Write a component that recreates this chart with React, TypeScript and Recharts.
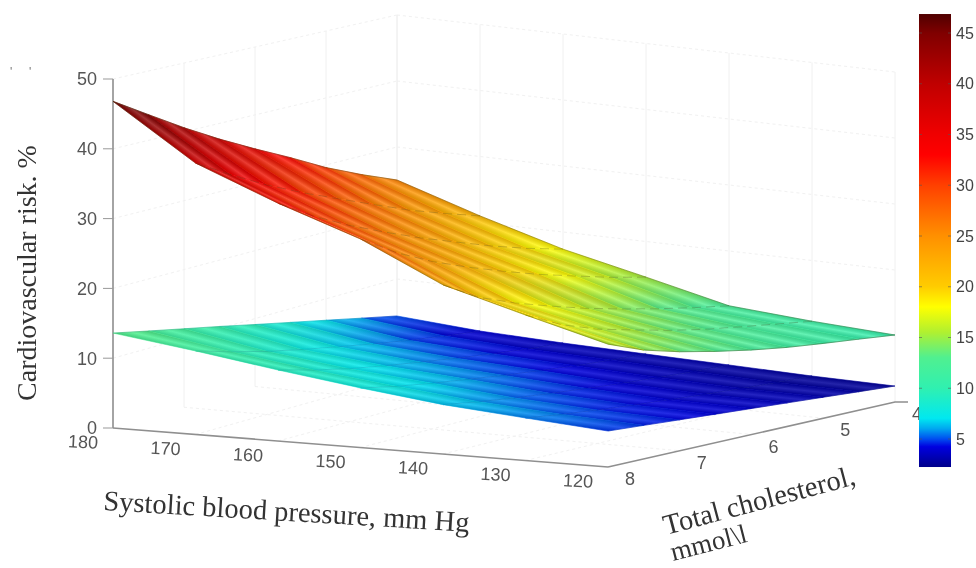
import React from "react";
import { ScatterChart, Scatter, XAxis, YAxis } from "recharts";

// ---------- data ----------
const sbpGrid = [180, 170, 160, 150, 140, 130, 120];
const cholGrid = [4, 4.5, 5, 5.5, 6, 6.5, 7, 7.5, 8];
const riskHigh = [
  [25.0, 27.2, 29.6, 32.4, 35.0, 37.7, 40.6, 43.7, 46.8],
  [21.0, 22.7, 24.5, 26.6, 28.7, 30.8, 33.1, 35.7, 38.5],
  [17.4, 18.8, 20.4, 22.2, 24.0, 26.0, 28.1, 30.5, 33.4],
  [14.6, 15.8, 17.2, 18.6, 20.2, 21.9, 23.8, 26.1, 29.0],
  [11.7, 12.6, 13.6, 14.7, 15.9, 17.3, 18.8, 20.6, 23.3],
  [10.8, 11.5, 12.2, 12.9, 13.8, 14.9, 16.0, 17.6, 19.85],
  [10.15, 10.6, 11.0, 11.45, 12.07, 12.85, 13.75, 14.9, 16.6],
];
const riskLow = [
  [4.4, 5.6, 6.8, 7.97, 9.13, 10.3, 11.4, 12.5, 13.6],
  [3.56, 4.3, 5.1, 6.0, 7.0, 8.0, 9.1, 10.4, 11.85],
  [3.18, 3.7, 4.4, 5.1, 5.9, 6.7, 7.6, 8.7, 9.97],
  [2.95, 3.4, 3.9, 4.5, 5.1, 5.8, 6.5, 7.3, 8.28],
  [2.73, 3.05, 3.45, 3.85, 4.35, 4.85, 5.4, 6.05, 6.8],
  [2.5, 2.75, 3.1, 3.45, 3.85, 4.25, 4.7, 5.2, 5.8],
  [2.42, 2.75, 3.09, 3.41, 3.71, 4.01, 4.3, 4.59, 4.86],
];
const sbpTicks = [180, 170, 160, 150, 140, 130, 120];
const cholTicks = [8, 7, 6, 5, 4];
const riskTicks = [0, 10, 20, 30, 40, 50];
const barTicks = [5, 10, 15, 20, 25, 30, 35, 40, 45];
const barRange = [2.24, 46.87];
const colorStops: [number, string][] = [
  [2.2, "#00008a"], [4.2, "#0000e0"], [5.0, "#0050f0"], [6.0, "#00a8f0"], [7.0, "#00e8f0"],
  [10, "#30f0b0"], [13, "#50f090"], [15.5, "#b0f030"], [18, "#ffff00"], [20, "#ffcc00"],
  [25, "#ff9000"], [30, "#ff4000"], [33, "#ff0000"], [35, "#f00000"], [40, "#c00000"],
  [45, "#800000"], [46.9, "#500000"],
];

// ---------- view geometry ----------
const W = 976, H = 568;
const PLOT_LEFT = 113, PLOT_RIGHT = 951, BAR_W = 32;
const Y0 = 428, KY = 6.98;
const BAR_Y45 = 33, BAR_K = 10.15;
// floor position and vertical scale at the four corners of the box
const C00 = { x: 113, y: 428, s: 6.98 };
const C10 = { x: 608, y: 467, s: 7.4 };
const C11 = { x: 895, y: 402, s: 6.6 };
const C01 = { x: 397, y: 345, s: 6.6 };

function project(sbp: number, chol: number, z: number) {
  const u = (180 - sbp) / 60, v = (8 - chol) / 4;
  const mix = (k: "x" | "y" | "s") =>
    C00[k] * (1 - u) * (1 - v) + C10[k] * u * (1 - v) + C11[k] * u * v + C01[k] * (1 - u) * v;
  return { x: mix("x"), y: (Y0 - (mix("y") - mix("s") * z)) / KY };
}

function colorOf(z: number) {
  const hex = (c: string) => [1, 3, 5].map((i) => parseInt(c.slice(i, i + 2), 16));
  if (z <= colorStops[0][0]) return colorStops[0][1];
  for (let i = 1; i < colorStops.length; i++) {
    if (z <= colorStops[i][0]) {
      const [a, ca] = colorStops[i - 1], [b, cb] = colorStops[i];
      const t = (z - a) / (b - a), A = hex(ca), B = hex(cb);
      return `rgb(${A.map((q, k) => Math.round(q + (B[k] - q) * t)).join(",")})`;
    }
  }
  return colorStops[colorStops.length - 1][1];
}

type Pt = { x: number; y: number };
type Cell = { id: string; x: number; y: number; corners: Pt[]; c0: string; c1: string; light: number };

function cellsOf(name: string, table: number[][], light: number): Cell[] {
  const out: Cell[] = [];
  for (let i = 0; i < sbpGrid.length - 1; i++) {
    for (let j = 0; j < cholGrid.length - 1; j++) {
      const a = project(sbpGrid[i], cholGrid[j], table[i][j]);
      const b = project(sbpGrid[i + 1], cholGrid[j], table[i + 1][j]);
      const c = project(sbpGrid[i + 1], cholGrid[j + 1], table[i + 1][j + 1]);
      const d = project(sbpGrid[i], cholGrid[j + 1], table[i][j + 1]);
      out.push({
        id: `${name}${i}_${j}`, x: a.x, y: a.y, corners: [a, b, c, d],
        c0: colorOf((table[i][j] + table[i][j + 1]) / 2),
        c1: colorOf((table[i + 1][j] + table[i + 1][j + 1]) / 2),
        light,
      });
    }
  }
  return out;
}

// gradient vector starting at s, reaching t, with its stripes parallel to edge
function across(s: Pt, t: Pt, edge: Pt) {
  const len = Math.hypot(edge.x, edge.y) || 1;
  const n = { x: -edge.y / len, y: edge.x / len };
  const k = (t.x - s.x) * n.x + (t.y - s.y) * n.y;
  return { x1: s.x, y1: s.y, x2: s.x + n.x * k, y2: s.y + n.y * k };
}

function CellShape(props: any) {
  const { cx, cy, payload } = props;
  const p: Cell = payload;
  const pts = p.corners.map((q) => ({ x: cx + (q.x - p.x), y: cy - (q.y - p.y) * KY }));
  const [a, b, c, d] = pts;
  const str = pts.map((q) => `${q.x},${q.y}`).join(" ");
  const m = (s: Pt, t: Pt) => ({ x: (s.x + t.x) / 2, y: (s.y + t.y) / 2 });
  const alongSbp = { x: b.x - a.x + c.x - d.x, y: b.y - a.y + c.y - d.y };
  const alongChol = { x: d.x - a.x + c.x - b.x, y: d.y - a.y + c.y - b.y };
  const colourVec = across(m(a, d), m(b, c), alongChol);
  const shadeVec = across(m(a, b), m(d, c), alongSbp);
  return (
    <g>
      <defs>
        <linearGradient id={`c${p.id}`} gradientUnits="userSpaceOnUse" {...colourVec}>
          <stop offset="0" stopColor={p.c0} />
          <stop offset="1" stopColor={p.c1} />
        </linearGradient>
        <linearGradient id={`s${p.id}`} gradientUnits="userSpaceOnUse" {...shadeVec}>
          <stop offset="0" stopColor="#000" stopOpacity={0.13} />
          <stop offset="0.5" stopColor="#fff" stopOpacity={p.light} />
          <stop offset="1" stopColor="#000" stopOpacity={0.13} />
        </linearGradient>
      </defs>
      <polygon points={str} fill={`url(#c${p.id})`} stroke={`url(#c${p.id})`} strokeWidth={0.6} />
      <polygon points={str} fill={`url(#s${p.id})`} />
    </g>
  );
}

const NoDot = () => <g />;
const cellsHigh = cellsOf("h", riskHigh, 0.2);
const cellsLow = cellsOf("l", riskLow, 0.14);
const rowLine = (table: number[][], i: number) => cholGrid.map((c, j) => project(sbpGrid[i], c, table[i][j]));
const colLine = (table: number[][], j: number) => sbpGrid.map((s, i) => project(s, cholGrid[j], table[i][j]));
const wallLeft = (z: number) => [project(180, 8, z), project(180, 4, z)];
const wallBack = (z: number) => [project(180, 4, z), project(120, 4, z)];

const SBP_DX = -30, SBP_DY = 14, CHOL_DX = 22, CHOL_DY = 12;
const axisLabel = (dx: number, dy: number, rot: number) => (props: any) => {
  const x = props.cx + dx, y = props.cy + dy;
  return (
    <text x={x} y={y} textAnchor="middle" dominantBaseline="central" fontFamily="Liberation Sans" fontSize={18} fill="#555"
      transform={`rotate(${rot} ${x} ${y})`}>{props.payload.label}</text>
  );
};
const SbpLabel = axisLabel(SBP_DX, SBP_DY, 3);
const CholLabel = axisLabel(CHOL_DX, CHOL_DY, 0);

// the colour bar: one anchor at its top right, its height comes from the axis scale
const BarShape = (props: any) => {
  const { cx, cy } = props;
  const h = (barRange[1] - barRange[0]) * BAR_K;
  return <rect x={cx - BAR_W} y={cy} width={BAR_W} height={h} fill="url(#bar)" />;
};
const BarTick = (props: any) => (
  <g stroke="#555" strokeOpacity={0.6} strokeWidth={1}>
    <line x1={props.cx - BAR_W} x2={props.cx - BAR_W + 3} y1={props.cy} y2={props.cy} />
    <line x1={props.cx - 3} x2={props.cx} y1={props.cy} y2={props.cy} />
  </g>
);

const GRID = { stroke: "#f0f0f0", strokeWidth: 1 };
const DOTTED = { stroke: "#f1f1f1", strokeWidth: 1, strokeDasharray: "3 3" };
const AXIS = { stroke: "#8f8f8f", strokeWidth: 1.6 };

export default function App() {
  const serif = "Liberation Serif";
  const gridLines: Pt[][] = [];
  const dashLines: Pt[][] = [];
  for (const z of riskTicks.slice(1)) { dashLines.push(wallLeft(z), wallBack(z)); }
  for (const c of cholTicks) gridLines.push([project(180, c, 0), project(180, c, 50)]);
  for (const s of sbpTicks) gridLines.push([project(s, 4, 0), project(s, 4, 50)]);
  for (const s of sbpTicks.slice(1, -1)) dashLines.push([project(s, 8, 0), project(s, 4, 0)]);
  for (const c of cholTicks.slice(1, -1)) dashLines.push([project(180, c, 0), project(120, c, 0)]);
  const corner = project(120, 4, 0);

  return (
    <div style={{ position: "absolute", left: 0, top: 0, width: W, height: H, background: "#fff", filter: "blur(0.6px)" }}>
      <ScatterChart width={W} height={H} margin={{ top: 0, right: 0, bottom: 0, left: 0 }}>
        <defs>
          <linearGradient id="bar" x1="0" y1="1" x2="0" y2="0">
            {colorStops.map(([v, c]) => (
              <stop key={v} offset={(v - 2.2) / (46.9 - 2.2)} stopColor={c} />
            ))}
          </linearGradient>
        </defs>
        <XAxis type="number" dataKey="x" hide domain={[PLOT_LEFT, PLOT_RIGHT]} />
        <YAxis yAxisId="z" type="number" dataKey="y" width={PLOT_LEFT} domain={[(Y0 - H) / KY, Y0 / KY]}
          ticks={riskTicks} interval={0} axisLine={false} tickSize={10} tickMargin={6}
          tickLine={{ stroke: "#999" }} tick={{ fontSize: 18, fill: "#555", fontFamily: "Liberation Sans" }} />
        <YAxis yAxisId="bar" orientation="right" type="number" dataKey="y" width={W - PLOT_RIGHT}
          domain={[45 - (H - BAR_Y45) / BAR_K, 45 + BAR_Y45 / BAR_K]} ticks={barTicks} interval={0}
          axisLine={false} tickLine={false} tickSize={0} tickMargin={5}
          tick={{ fontSize: 16, fill: "#444", fontFamily: "Liberation Sans" }} />

        {dashLines.map((d, i) => (
          <Scatter key={`d${i}`} yAxisId="z" data={d} line={DOTTED} shape={NoDot} isAnimationActive={false} />
        ))}
        {gridLines.map((d, i) => (
          <Scatter key={`g${i}`} yAxisId="z" data={d} line={GRID} shape={NoDot} isAnimationActive={false} />
        ))}

        <Scatter yAxisId="z" data={[project(180, 8, 0), project(180, 8, 50)]} line={AXIS} shape={NoDot} isAnimationActive={false} />
        <Scatter yAxisId="z" data={[project(180, 8, 0), project(120, 8, 0)]} line={AXIS} shape={NoDot} isAnimationActive={false} />
        <Scatter yAxisId="z" data={[project(120, 8, 0), corner, { x: corner.x + 13, y: corner.y }]} line={AXIS} shape={NoDot} isAnimationActive={false} />

        <Scatter yAxisId="z" data={cellsLow} shape={CellShape} isAnimationActive={false} />
        <Scatter yAxisId="z" data={cellsHigh} shape={CellShape} isAnimationActive={false} />

        {sbpGrid.map((_, i) => (
          <Scatter key={`mh${i}`} yAxisId="z" data={rowLine(riskHigh, i)} shape={NoDot} isAnimationActive={false}
            line={{ stroke: "#3c3c14", strokeOpacity: i === 0 || i === sbpGrid.length - 1 ? 0.45 : 0.32, strokeWidth: 0.9, strokeDasharray: i === 0 || i === sbpGrid.length - 1 ? undefined : "9 5" }} />
        ))}
        {[0, cholGrid.length - 1].map((j) => (
          <Scatter key={`oh${j}`} yAxisId="z" data={colLine(riskHigh, j)} shape={NoDot} isAnimationActive={false}
            line={{ stroke: "#3c3c14", strokeOpacity: 0.45, strokeWidth: 0.8 }} />
        ))}
        {sbpGrid.map((_, i) => (
          <Scatter key={`ml${i}`} yAxisId="z" data={rowLine(riskLow, i)} shape={NoDot} isAnimationActive={false}
            line={{ stroke: "#001450", strokeOpacity: 0.18, strokeWidth: 0.8 }} />
        ))}

        <Scatter yAxisId="z" isAnimationActive={false} shape={SbpLabel}
          data={sbpTicks.map((s) => ({ ...project(s, 8, 0), label: String(s) }))} />
        <Scatter yAxisId="z" isAnimationActive={false} shape={CholLabel}
          data={cholTicks.map((c) => ({ ...project(120, c, 0), label: String(c) }))} />

        <Scatter yAxisId="bar" isAnimationActive={false} shape={BarShape} data={[{ x: PLOT_RIGHT, y: barRange[1] }]} />
        <Scatter yAxisId="bar" isAnimationActive={false} shape={BarTick} data={barTicks.map((t) => ({ x: PLOT_RIGHT, y: t }))} />

        <text x={26} y={273} textAnchor="middle" dominantBaseline="central" fontFamily={serif} fontSize={28} fill="#333"
          transform="rotate(-90 26 273)">Cardiovascular risk. %</text>
        <text x={103} y={510} fontFamily={serif} fontSize={28.5} fill="#333" transform="rotate(3.4 103 510)">Systolic blood pressure, mm Hg</text>
        <text x={666} y={535} fontFamily={serif} fontSize={28.5} fill="#333" transform="rotate(-14.9 666 535)">Total cholesterol,</text>
        <text x={673} y={561} fontFamily={serif} fontSize={27} fill="#333" transform="rotate(-14.4 673 561)">{"mmol\\l"}</text>
        <text x={10} y={76} fontFamily="Liberation Sans" fontSize={12} fill="#777">{"'"}</text>
        <text x={29} y={76} fontFamily="Liberation Sans" fontSize={12} fill="#777">{"'"}</text>
      </ScatterChart>
    </div>
  );
}
